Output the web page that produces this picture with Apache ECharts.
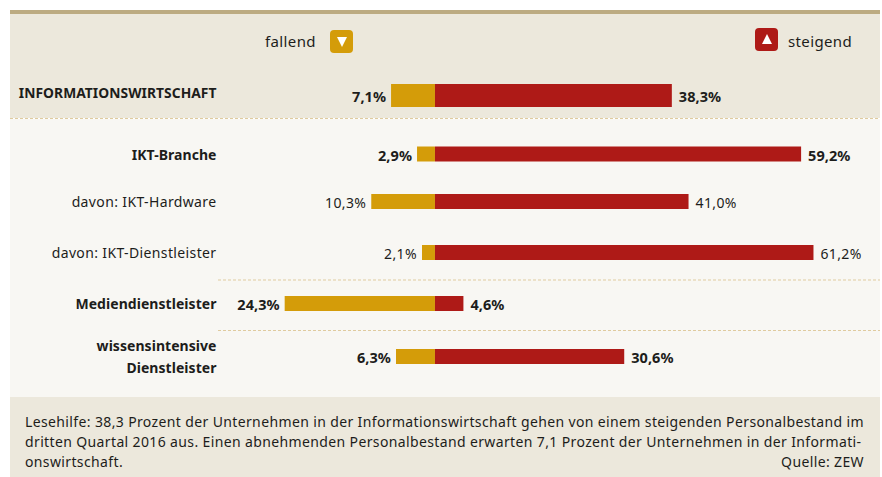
<!DOCTYPE html>
<html>
<head>
<meta charset="utf-8">
<style>
  html, body { margin: 0; padding: 0; background: #fff; }
  #chart { width: 882px; height: 477px; }
  /* the original type is spaced a bit wider, bold Noto is already wide enough */
  #chart svg text { letter-spacing: 0.37px; }
  #chart svg text[style*="bold"] { letter-spacing: 0.05px; }
</style>
<script src="https://cdn.jsdelivr.net/npm/echarts@6/dist/echarts.min.js"></script>
</head>
<body>
<div id="chart"></div>
<script>
const categories = ['INFORMATIONSWIRTSCHAFT', 'IKT-Branche', 'davon: IKT-Hardware', 'davon: IKT-Dienstleister', 'Mediendienstleister', 'wissensintensive\nDienstleister'];
const fallend = [7.1, 2.9, 10.3, 2.1, 24.3, 6.3];
const steigend = [38.3, 59.2, 41.0, 61.2, 4.6, 30.6];
const boldRows = [true, true, false, false, true, true];
const noteLines = [
  'Lesehilfe: 38,3 Prozent der Unternehmen in der Informationswirtschaft gehen von einem steigenden Personalbestand im',
  'dritten Quartal 2016 aus. Einen abnehmenden Personalbestand erwarten 7,1 Prozent der Unternehmen in der Informati-',
  'onswirtschaft.'
];

// layout of the rows, they are not evenly spaced in the original
const rowCenters = [95.5, 154, 201.5, 252.5, 303.5, 356.5];
const barHeights = [23, 15, 15, 15, 15, 15];
const FONT = '"Noto Sans", sans-serif';
const TEXT = '#1d1d1b';
const ORANGE = '#d49c09';
const RED = '#ae1a17';
const BEIGE = '#ece8dc';

const fmt = v => Math.abs(v).toFixed(1).replace('.', ',') + '%';

let grids = [], xAxes = [], yAxes = [], series = [];
categories.forEach((name, i) => {
  const weight = boldRows[i] ? 'bold' : 'normal';
  grids.push({ left: 218.5, width: 649.4, top: rowCenters[i] - 20, height: 40 });
  xAxes.push({ gridIndex: i, type: 'value', min: -35, max: 70, show: false });
  // header label sits above the bar centre
  const labelPlace = i === 0
    ? { verticalAlign: 'bottom', lineHeight: 6 }
    : { lineHeight: 22, padding: [2, 0, 0, 0] };
  yAxes.push({
    gridIndex: i,
    type: 'category',
    data: [name],
    axisLine: { show: false, onZero: false },
    axisTick: { show: false },
    splitLine: { show: false },
    axisLabel: Object.assign({
      color: TEXT, fontFamily: FONT, fontSize: i === 0 ? 13.8 : 14, fontWeight: weight,
      align: 'right', margin: 2
    }, labelPlace)
  });
  const common = { type: 'bar', xAxisIndex: i, yAxisIndex: i, stack: 'row' + i, barWidth: barHeights[i], silent: true };
  const labelStyle = { show: true, color: TEXT, fontFamily: FONT, fontSize: i === 0 || boldRows[i] ? 14.5 : 14, fontWeight: weight, formatter: p => fmt(p.value), offset: [0, i === 0 ? 0 : 0.5] };
  series.push(Object.assign({}, common, {
    name: 'fallend',
    data: [-fallend[i]],
    itemStyle: { color: ORANGE },
    label: Object.assign({}, labelStyle, { position: 'left', distance: 5 })
  }));
  series.push(Object.assign({}, common, {
    name: 'steigend',
    data: [steigend[i]],
    itemStyle: { color: RED },
    label: Object.assign({}, labelStyle, { position: 'right', distance: 7 })
  }));
});

function dash(x1, x2, y) {
  return { type: 'line', z: -5, shape: { x1: x1, y1: y, x2: x2, y2: y }, style: { stroke: '#dfcb9f', lineWidth: 1, lineDash: [3, 2] } };
}
function box(x, y, w, h, fill) {
  return { type: 'rect', z: -10, shape: { x: x, y: y, width: w, height: h }, style: { fill: fill } };
}
function legendIcon(x, y, color, points) {
  return { type: 'group', children: [
    { type: 'rect', shape: { x: x, y: y, width: 23, height: 23, r: 4 }, style: { fill: color } },
    { type: 'polygon', shape: { points: points.map(p => [x + p[0], y + p[1]]) }, style: { fill: '#fff' } }
  ] };
}
function txt(x, y, text, align, size) {
  return { type: 'text', x: x, y: y, style: { text: text, fill: TEXT, font: (size || 14) + 'px ' + FONT, textAlign: align || 'left', textVerticalAlign: 'middle' } };
}

const graphics = [
  box(10, 13, 870, 105, BEIGE),
  box(10, 10, 870, 4, '#bcab82'),
  box(10, 119, 870, 278, '#f8f7f3'),
  box(10, 397, 870, 80, BEIGE),
  dash(10, 880, 118.5),
  dash(218, 880, 280),
  dash(218, 880, 330.5),
  txt(265, 41, 'fallend', 'left', 15),
  legendIcon(330, 30, ORANGE, [[7, 7], [17, 7], [12, 17]]),
  legendIcon(755, 28, RED, [[7, 16], [17, 16], [12, 6]]),
  txt(788, 41, 'steigend', 'left', 15),
  txt(25, 421, noteLines[0]),
  txt(25, 441, noteLines[1]),
  txt(25, 461, noteLines[2]),
  txt(864, 461, 'Quelle: ZEW', 'right')
];

const myChart = echarts.init(document.getElementById('chart'), null, { renderer: 'svg' });
myChart.setOption({
  animation: false,
  backgroundColor: '#fff',
  grid: grids,
  xAxis: xAxes,
  yAxis: yAxes,
  series: series,
  graphic: graphics
});
</script>
</body>
</html>
